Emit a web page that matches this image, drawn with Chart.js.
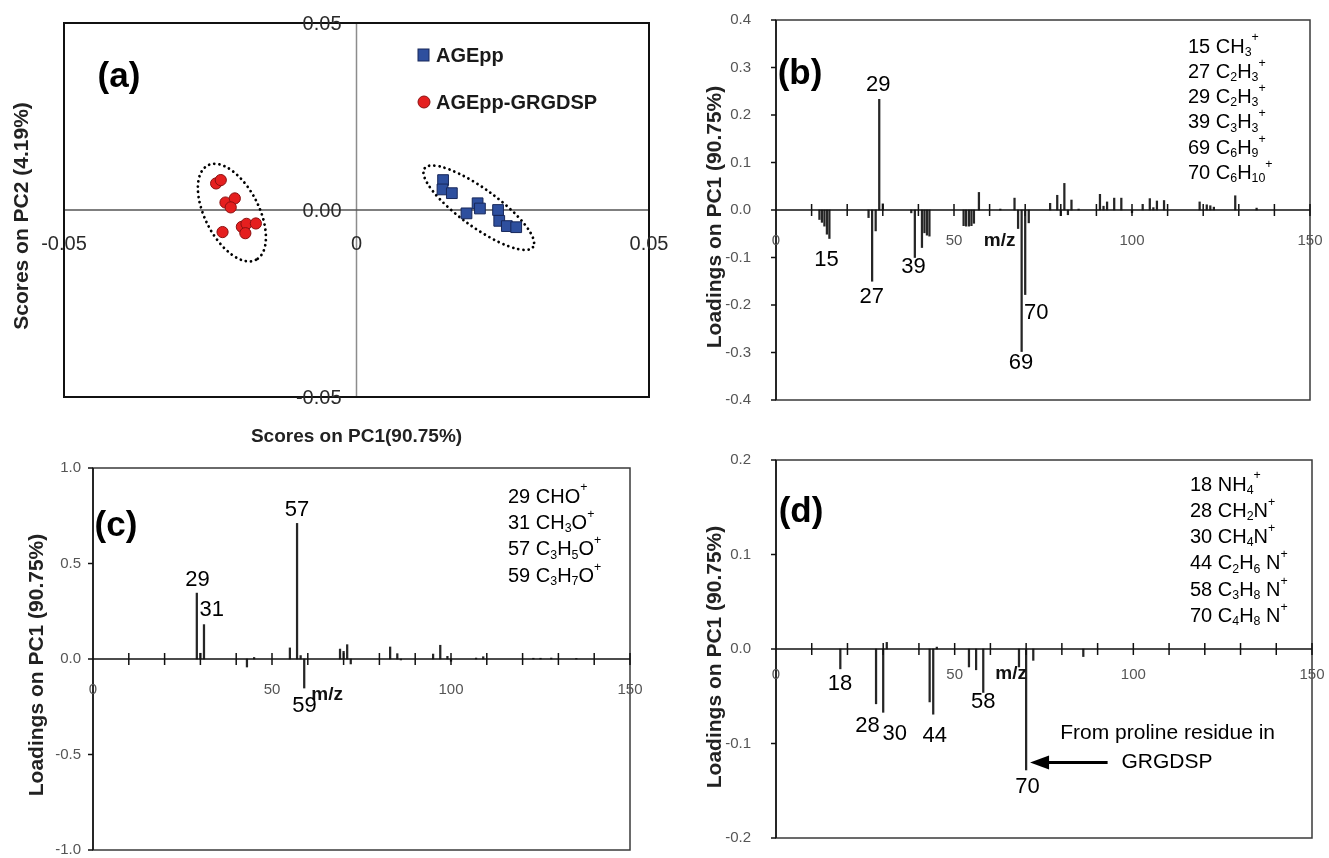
<!DOCTYPE html>
<html><head><meta charset="utf-8">
<script src="https://cdn.jsdelivr.net/npm/chart.js@4.4.1/dist/chart.umd.min.js"></script>
<style>
html,body{margin:0;padding:0;background:#fff;width:1329px;height:858px;overflow:hidden;}
canvas{position:absolute;display:block;}
</style></head><body>
<canvas id="ca" width="670" height="455" style="left:0;top:0;width:670px;height:455px"></canvas>
<canvas id="cb" width="659" height="440" style="left:670px;top:0;width:659px;height:440px"></canvas>
<canvas id="cc" width="670" height="397" style="left:0;top:461px;width:670px;height:397px"></canvas>
<canvas id="cd" width="659" height="418" style="left:670px;top:440px;width:659px;height:418px"></canvas>
<script>
const FONT = "'Liberation Sans', Arial, Helvetica, sans-serif";

// ---------- Panel (a): PCA scores ----------
const agX = [0.0148, 0.0147, 0.0163, 0.0188, 0.0207, 0.0211, 0.0242, 0.0244, 0.0257, 0.0273];
const agY = [0.0080, 0.0055, 0.0045, -0.0009, 0.0018, 0.0004, 0.0000, -0.0029, -0.0043, -0.0046];
const grX = [-0.0240, -0.0232, -0.0224, -0.0208, -0.0215, -0.0229, -0.0196, -0.0188, -0.0190, -0.0172];
const grY = [0.0071, 0.0080, 0.0020, 0.0031, 0.0007, -0.0059, -0.0045, -0.0037, -0.0062, -0.0036];
const aTickValues = [-0.05, 0, 0.05];
const aXTickLabels = ['-0.05', '0', '0.05'];
const aYTickLabels = ['-0.05', '0.00', '0.05'];
const aSeriesNames = ['AGEpp', 'AGEpp-GRGDSP'];

// ---------- Panel (b): PC1 loadings ----------
const bMz = [12.2, 12.9, 13.6, 14.3, 15, 26, 27, 28, 29, 30, 38, 39, 41, 41.7, 42.4, 43.1,
  52.7, 53.4, 54.2, 54.9, 55.6, 57, 63, 67, 68, 69, 70, 71, 77, 79, 80, 81, 82, 83, 85,
  91, 92, 93, 95, 97, 100, 103, 105, 106, 107, 109, 119, 121, 122, 123, 129, 135];
const bLoad = [-0.020, -0.026, -0.034, -0.051, -0.060, -0.016, -0.150, -0.044, 0.233, 0.013, -0.006, -0.100, -0.079, -0.048, -0.053, -0.055,
  -0.033, -0.034, -0.034, -0.033, -0.028, 0.037, 0.002, 0.025, -0.039, -0.298, -0.178, -0.027, 0.014, 0.031, -0.012, 0.056, -0.010, 0.021, 0.002,
  0.033, 0.008, 0.017, 0.025, 0.025, -0.006, 0.012, 0.024, 0.005, 0.019, 0.020, 0.017, 0.011, 0.009, 0.006, 0.030, 0.004];
const bYTicks = [0.4, 0.3, 0.2, 0.1, 0, -0.1, -0.2, -0.3, -0.4];
const bYTickLabels = ['0.4', '0.3', '0.2', '0.1', '0.0', '-0.1', '-0.2', '-0.3', '-0.4'];
const bSpecies = ['15 CH_{3}^{+}', '27 C_{2}H_{3}^{+}', '29 C_{2}H_{3}^{+}', '39 C_{3}H_{3}^{+}', '69 C_{6}H_{9}^{+}', '70 C_{6}H_{10}^{+}'];

// ---------- Panel (c) ----------
const cMz = [29, 30, 31, 43, 45, 55, 57, 58, 59, 69, 70, 71, 72, 83, 85, 86, 95, 97, 99, 100, 107, 109, 123, 125, 128, 135];
const cLoad = [0.345, 0.030, 0.180, -0.042, 0.008, 0.058, 0.710, 0.018, -0.152, 0.052, 0.040, 0.075, -0.026, 0.063, 0.028, -0.005,
  0.026, 0.072, 0.014, -0.012, 0.005, 0.012, 0.004, 0.004, 0.005, 0.003];
const cYTicks = [1, 0.5, 0, -0.5, -1];
const cYTickLabels = ['1.0', '0.5', '0.0', '-0.5', '-1.0'];
const cSpecies = ['29 CHO^{+}', '31 CH_{3}O^{+}', '57 C_{3}H_{5}O^{+}', '59 C_{3}H_{7}O^{+}'];

// ---------- Panel (d) ----------
const dMz = [18, 28, 30, 31, 43, 44, 45, 54, 56, 58, 68, 70, 72, 86];
const dLoad = [-0.021, -0.058, -0.067, 0.007, -0.056, -0.069, 0.002, -0.019, -0.022, -0.046, -0.019, -0.128, -0.012, -0.008];
const dYTicks = [0.2, 0.1, 0, -0.1, -0.2];
const dYTickLabels = ['0.2', '0.1', '0.0', '-0.1', '-0.2'];
const dSpecies = ['18 NH_{4}^{+}', '28 CH_{2}N^{+}', '30 CH_{4}N^{+}', '44 C_{2}H_{6} N^{+}', '58 C_{3}H_{8} N^{+}', '70 C_{4}H_{8} N^{+}'];

const mzTickLabels = [0, 50, 100, 150];
const yTitle = 'Loadings on PC1 (90.75%)';

// ---------- helpers ----------
function txt(ctx, s, x, y, font, color, align, base) {
  ctx.font = font; ctx.fillStyle = color;
  ctx.textAlign = align || 'center'; ctx.textBaseline = base || 'middle';
  ctx.fillText(s, x, y);
}
function parseRich(s) {
  const out = []; const re = /([_^])\{([^}]*)\}/g; let last = 0, m;
  while ((m = re.exec(s))) {
    if (m.index > last) out.push([s.slice(last, m.index), 'n']);
    out.push([m[2], m[1] === '_' ? 'sub' : 'sup']);
    last = re.lastIndex;
  }
  if (last < s.length) out.push([s.slice(last), 'n']);
  return out;
}
function drawRich(ctx, s, x, y, size, color) {
  let cx = x;
  ctx.fillStyle = color; ctx.textAlign = 'left'; ctx.textBaseline = 'middle';
  for (const [t, kind] of parseRich(s)) {
    let sz = size, dy = 0;
    if (kind === 'sub') { sz = size * 0.62; dy = size * 0.27; }
    else if (kind === 'sup') { sz = size * 0.62; dy = -size * 0.45; }
    ctx.font = sz + 'px ' + FONT;
    ctx.fillText(t, cx, y + dy);
    cx += ctx.measureText(t).width;
  }
}
function vtitle(ctx, s, x, y, font, color) {
  ctx.save(); ctx.translate(x, y); ctx.rotate(-Math.PI / 2);
  txt(ctx, s, 0, 0, font, color); ctx.restore();
}

// ---------- Panel (a) ----------
const aEllipses = [
  { cx: -0.0213, cy: -0.0007, a: 53, b: 27, rot: 63 },
  { cx: 0.0209, cy: 0.0006, a: 67, b: 19, rot: 36 }
];
const scoresDecor = {
  id: 'scoresDecor',
  beforeDatasetsDraw(chart) {
    const { ctx, chartArea: ar, scales: { x, y } } = chart;
    ctx.save();
    const x0 = x.getPixelForValue(0), y0 = y.getPixelForValue(0);
    ctx.lineWidth = 1.5;
    ctx.strokeStyle = '#8c8c8c';
    ctx.beginPath(); ctx.moveTo(x0, ar.top); ctx.lineTo(x0, ar.bottom); ctx.stroke();
    ctx.strokeStyle = '#555';
    ctx.beginPath(); ctx.moveTo(ar.left, y0); ctx.lineTo(ar.right, y0); ctx.stroke();
    ctx.strokeStyle = '#000'; ctx.lineWidth = 2.8; ctx.lineCap = 'round'; ctx.setLineDash([0.01, 5.2]);
    for (const e of aEllipses) {
      ctx.beginPath();
      ctx.ellipse(x.getPixelForValue(e.cx), y.getPixelForValue(e.cy), e.a, e.b, e.rot * Math.PI / 180, 0, Math.PI * 2);
      ctx.stroke();
    }
    ctx.restore();
  },
  afterDatasetsDraw(chart) {
    const { ctx, chartArea: ar, scales: { x, y } } = chart;
    ctx.save();
    ctx.strokeStyle = '#111'; ctx.lineWidth = 2;
    ctx.strokeRect(ar.left, ar.top, ar.right - ar.left, ar.bottom - ar.top);
    const x0 = x.getPixelForValue(0), y0 = y.getPixelForValue(0);
    const f = '20px ' + FONT;
    aTickValues.forEach((v, i) => {
      txt(ctx, aYTickLabels[i], x0 - 15, y.getPixelForValue(v) + 1, f, '#2a2a2a', 'right');
      txt(ctx, aXTickLabels[i], x.getPixelForValue(v), y0 + 34, f, '#2a2a2a', 'center');
    });
    ctx.fillStyle = '#2e4f9e'; ctx.strokeStyle = '#18285a'; ctx.lineWidth = 1;
    ctx.fillRect(418, 49, 11, 12); ctx.strokeRect(418, 49, 11, 12);
    ctx.beginPath(); ctx.arc(424, 102, 6, 0, Math.PI * 2);
    ctx.fillStyle = '#e51f1f'; ctx.fill(); ctx.strokeStyle = '#8b1111'; ctx.stroke();
    txt(ctx, aSeriesNames[0], 436, 56, 'bold 20px ' + FONT, '#1a1a1a', 'left');
    txt(ctx, aSeriesNames[1], 436, 103, 'bold 20px ' + FONT, '#1a1a1a', 'left');
    txt(ctx, '(a)', 119, 77, 'bold 35px ' + FONT, '#000');
    vtitle(ctx, 'Scores on PC2 (4.19%)', 22, 216, 'bold 21px ' + FONT, '#222');
    txt(ctx, 'Scores on PC1(90.75%)', x0, 437, 'bold 19px ' + FONT, '#222');
    ctx.restore();
  }
};

new Chart(document.getElementById('ca'), {
  type: 'scatter',
  data: {
    datasets: [
      { label: aSeriesNames[0], data: agX.map((v, i) => ({ x: v, y: agY[i] })), pointStyle: 'rect', pointRadius: 7.6,
        backgroundColor: '#2e4f9e', borderColor: '#18285a', borderWidth: 1 },
      { label: aSeriesNames[1], data: grX.map((v, i) => ({ x: v, y: grY[i] })), pointStyle: 'circle', pointRadius: 5.6,
        backgroundColor: '#e51f1f', borderColor: '#8b1111', borderWidth: 1 }
    ]
  },
  options: {
    responsive: false, animation: false, devicePixelRatio: 1,
    layout: { padding: { left: 64, top: 23, right: 21, bottom: 58 } },
    plugins: { legend: { display: false }, tooltip: { enabled: false } },
    scales: { x: { min: -0.05, max: 0.05, display: false }, y: { min: -0.05, max: 0.05, display: false } }
  },
  plugins: [scoresDecor]
});

// ---------- spectrum panels ----------
function spectrumDecor(o) {
  return {
    id: 'spec' + o.tag,
    afterDatasetsDraw(chart) {
      const { ctx, chartArea: ar, scales: { x, y } } = chart;
      ctx.save();
      ctx.lineWidth = 1.5; ctx.strokeStyle = '#3a3a3a';
      ctx.strokeRect(ar.left, ar.top, ar.right - ar.left, ar.bottom - ar.top);
      ctx.strokeStyle = '#111';
      ctx.beginPath(); ctx.moveTo(ar.left, ar.top); ctx.lineTo(ar.left, ar.bottom); ctx.stroke();
      o.yTicks.forEach((v, i) => {
        const py = y.getPixelForValue(v);
        ctx.beginPath(); ctx.moveTo(ar.left - 5, py); ctx.lineTo(ar.left, py); ctx.stroke();
        txt(ctx, o.yLabels[i], ar.left - o.yGap, py, '15px ' + FONT, '#555', 'right');
      });
      const y0 = y.getPixelForValue(0);
      ctx.lineWidth = 1.6; ctx.strokeStyle = '#111';
      ctx.beginPath(); ctx.moveTo(ar.left, y0); ctx.lineTo(ar.right, y0); ctx.stroke();
      ctx.lineWidth = 1.5;
      for (let m = 10; m <= 150; m += 10) {
        const px = x.getPixelForValue(m);
        ctx.beginPath(); ctx.moveTo(px, y0 - 6); ctx.lineTo(px, y0 + 6); ctx.stroke();
      }
      mzTickLabels.forEach(m => txt(ctx, String(m), x.getPixelForValue(m), y0 + o.xLabOff, '15px ' + FONT, '#555'));
      txt(ctx, 'm/z', x.getPixelForValue(o.mzPos[0]), y.getPixelForValue(o.mzPos[1]), 'bold 19px ' + FONT, '#111');
      o.labels.forEach(l => txt(ctx, l.t, x.getPixelForValue(l.m), y.getPixelForValue(l.v), '22px ' + FONT, '#000'));
      o.species.forEach((s, i) => drawRich(ctx, s, ar.left + o.spX, ar.top + o.spY + i * o.spDY, 20, '#000'));
      txt(ctx, o.panel, ar.left + o.pl[0], ar.top + o.pl[1], 'bold 35px ' + FONT, '#000');
      vtitle(ctx, yTitle, ar.left + o.tDX, (ar.top + ar.bottom) / 2 + o.tDY, 'bold 21px ' + FONT, '#222');
      if (o.arrow) {
        const a = o.arrow;
        const tx = x.getPixelForValue(a.from), hx = x.getPixelForValue(a.to), py = y.getPixelForValue(a.v);
        ctx.lineWidth = 3; ctx.strokeStyle = '#000'; ctx.fillStyle = '#000';
        ctx.beginPath(); ctx.moveTo(tx, py); ctx.lineTo(hx + 16, py); ctx.stroke();
        ctx.beginPath(); ctx.moveTo(hx, py); ctx.lineTo(hx + 19, py - 7); ctx.lineTo(hx + 19, py + 7); ctx.closePath(); ctx.fill();
        a.text.forEach(t => txt(ctx, t.t, x.getPixelForValue(t.m), y.getPixelForValue(t.v), '21px ' + FONT, '#000'));
      }
      ctx.restore();
    }
  };
}
function spectrumChart(id, mz, load, o) {
  return new Chart(document.getElementById(id), {
    type: 'bar',
    data: { datasets: [{ data: mz.map((m, i) => ({ x: m, y: load[i] })), backgroundColor: '#262626', borderWidth: 0, barThickness: 1.6 }] },
    options: {
      responsive: false, animation: false, devicePixelRatio: 1,
      layout: { padding: o.padding },
      plugins: { legend: { display: false }, tooltip: { enabled: false } },
      scales: {
        x: { type: 'linear', min: 0, max: 150, offset: false, display: false },
        y: { min: o.ymin, max: o.ymax, display: false }
      }
    },
    plugins: [spectrumDecor(o)]
  });
}

spectrumChart('cb', bMz, bLoad, {
  tag: 'b', padding: { left: 106, top: 20, right: 19, bottom: 40 }, ymin: -0.4, ymax: 0.4,
  yTicks: bYTicks, yLabels: bYTickLabels, yGap: 25, xLabOff: 31, mzPos: [62.8, -0.065],
  labels: [{ t: '29', m: 28.7, v: 0.263 }, { t: '15', m: 14.2, v: -0.105 }, { t: '27', m: 26.9, v: -0.182 },
    { t: '39', m: 38.6, v: -0.12 }, { t: '70', m: 73.1, v: -0.217 }, { t: '69', m: 68.8, v: -0.323 }],
  species: bSpecies, spX: 412, spY: 27, spDY: 25.3, panel: '(b)', pl: [24, 54], tDX: -61, tDY: 7
});
spectrumChart('cc', cMz, cLoad, {
  tag: 'c', padding: { left: 93, top: 7, right: 40, bottom: 8 }, ymin: -1, ymax: 1,
  yTicks: cYTicks, yLabels: cYTickLabels, yGap: 12, xLabOff: 31, mzPos: [65.4, -0.187],
  labels: [{ t: '57', m: 57, v: 0.78 }, { t: '29', m: 29.2, v: 0.415 }, { t: '31', m: 33.2, v: 0.257 }, { t: '59', m: 59.1, v: -0.248 }],
  species: cSpecies, spX: 415, spY: 29, spDY: 26.4, panel: '(c)', pl: [23, 58], tDX: -56, tDY: 6
});
spectrumChart('cd', dMz, dLoad, {
  tag: 'd', padding: { left: 106, top: 20, right: 17, bottom: 20 }, ymin: -0.2, ymax: 0.2,
  yTicks: dYTicks, yLabels: dYTickLabels, yGap: 25, xLabOff: 26, mzPos: [65.8, -0.026],
  labels: [{ t: '18', m: 17.9, v: -0.037 }, { t: '28', m: 25.6, v: -0.081 }, { t: '30', m: 33.2, v: -0.09 },
    { t: '44', m: 44.4, v: -0.092 }, { t: '58', m: 58.0, v: -0.0565 }, { t: '70', m: 70.4, v: -0.146 }],
  species: dSpecies, spX: 414, spY: 25, spDY: 26.3, panel: '(d)', pl: [25, 52], tDX: -61, tDY: 8,
  arrow: { from: 92.8, to: 71.1, v: -0.12, text: [{ t: 'From proline residue in', m: 109.6, v: -0.0895 }, { t: 'GRGDSP', m: 109.4, v: -0.12 }] }
});
</script>
</body></html>
